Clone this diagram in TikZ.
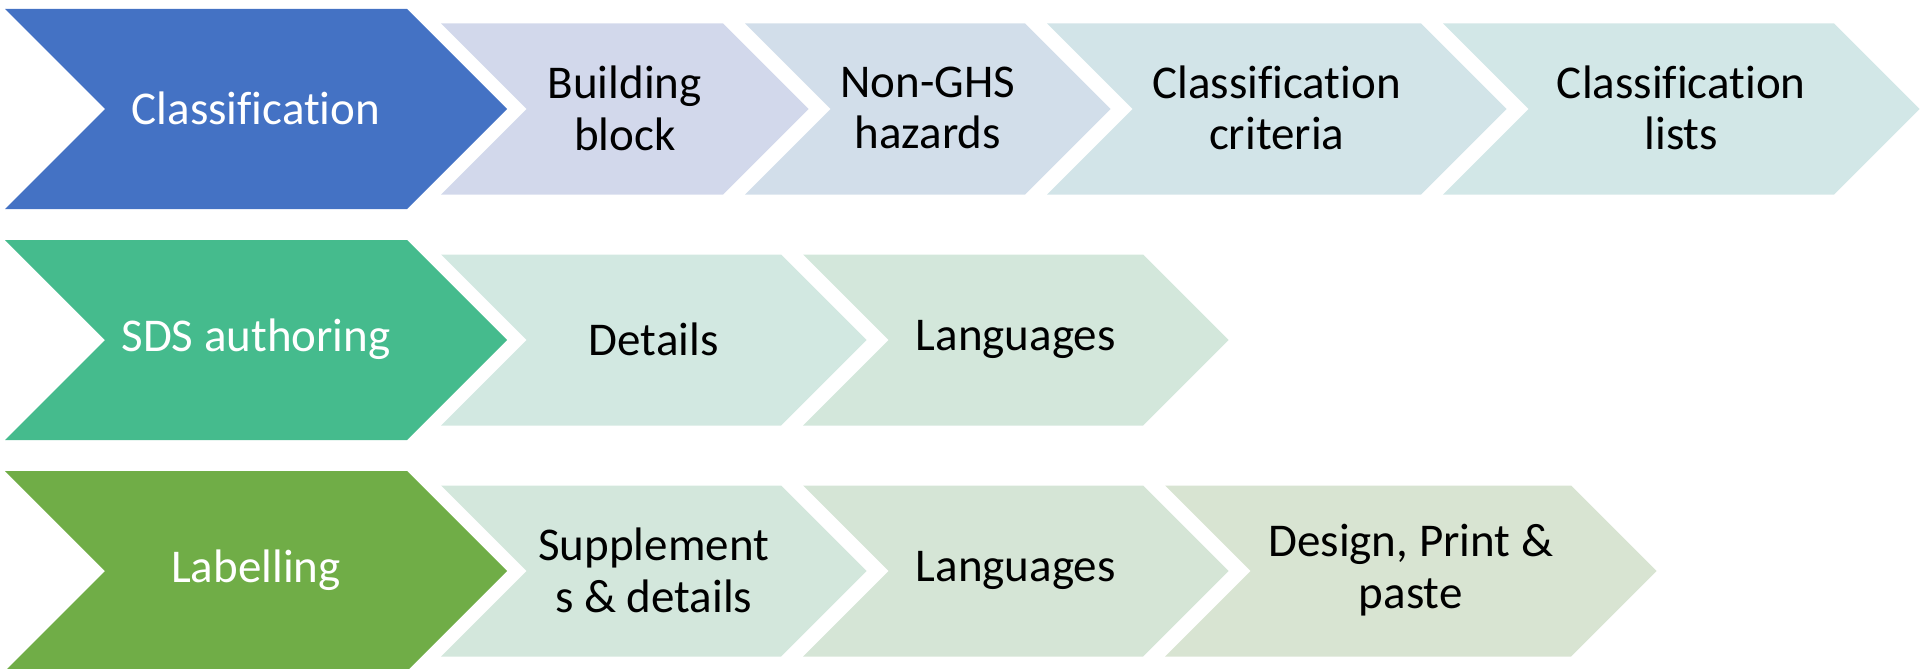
\documentclass[tikz,border=0pt]{standalone}
\usepackage{fontspec}
\setmainfont[Ligatures=NoCommon]{Carlito}
\definecolor{cBlue}{HTML}{4472C4}
\definecolor{cTeal}{HTML}{45BB8D}
\definecolor{cGreen}{HTML}{70AD47}
\definecolor{sA}{HTML}{D2D8EB}
\definecolor{sB}{HTML}{D2DEEA}
\definecolor{sC}{HTML}{D2E4E8}
\definecolor{sD}{HTML}{D2E7E7}
\definecolor{sE}{HTML}{D2E8E1}
\definecolor{sF}{HTML}{D3E7DB}
\definecolor{sG}{HTML}{D3E7DC}
\definecolor{sH}{HTML}{D5E5D6}
\definecolor{sI}{HTML}{D8E4D2}
\tikzset{
  lbl/.style={align=center, font=\fontsize{47}{51.7}\selectfont, inner sep=0pt},
}
% #1 name, #2 left, #3 body right, #4 mid y, #5 half height, #6 fill, #7 text colour, #8 text
\newcommand\mychev[8]{%
  \fill[#6] (#2,#4-#5) -- (#3,#4-#5) -- (#3+#5,#4) -- (#3,#4+#5) -- (#2,#4+#5) -- (#2+#5,#4) -- cycle;
  \node[lbl, text=#7] (#1) at ({(#2+#5+#3)/2},#4-1) {#8};
}
\begin{document}
\begin{tikzpicture}[x=1pt,y=-1pt]
\useasboundingbox (0,0) rectangle (1920,669);
% row 1
\mychev{cls}{5}{407}{109}{100}{cBlue}{white}{Classification}
\mychev{bb}{441}{723}{109}{85.5}{sA}{black}{Building\\block}
\mychev{ng}{745}{1025}{109}{85.5}{sB}{black}{Non-GHS\\hazards}
\mychev{cc}{1047}{1421}{109}{85.5}{sC}{black}{Classification\\criteria}
\mychev{cl}{1443}{1834}{109}{85.5}{sD}{black}{Classification\\lists}
% row 2
\mychev{sds}{5}{407}{340}{100}{cTeal}{white}{SDS authoring}
\mychev{det}{441}{781}{340}{85.5}{sE}{black}{Details}
\mychev{lang}{803}{1143}{340}{85.5}{sF}{black}{Languages}
% row 3
\mychev{lab}{5}{407}{571}{100}{cGreen}{white}{Labelling}
\mychev{sup}{441}{781}{571}{85.5}{sG}{black}{Supplement\\s \& details}
\mychev{langb}{803}{1143}{571}{85.5}{sH}{black}{Languages}
\mychev{des}{1165}{1571}{571}{85.5}{sI}{black}{Design, Print \&\\paste}
\end{tikzpicture}
\end{document}
